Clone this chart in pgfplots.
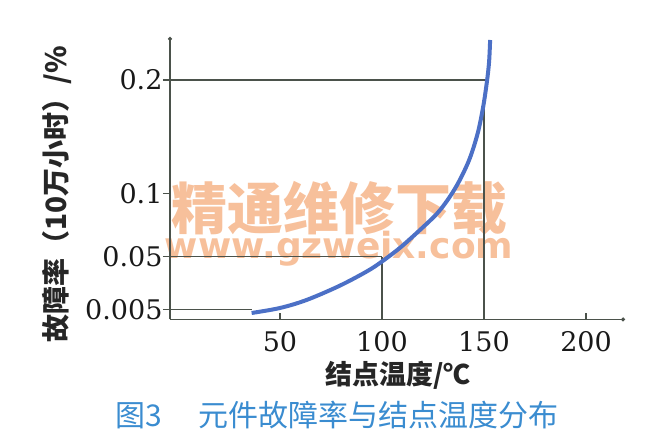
\documentclass[border=0pt]{standalone}
\usepackage{pgfplots}
\pgfplotsset{compat=1.18}
\usetikzlibrary{arrows.meta}
\usepackage{fontspec}
\setmainfont{DejaVu Serif}
\newfontfamily\cjk{Noto Sans CJK SC}
\newfontfamily\wmsans{DejaVu Sans}
\definecolor{curveblue}{RGB}{76,112,198}
\definecolor{axisgray}{RGB}{75,82,75}
\definecolor{capblue}{RGB}{58,140,208}
\definecolor{wmorange}{RGB}{247,192,155}
\begin{document}
\begin{tikzpicture}[x=1pt,y=1pt]
\useasboundingbox (0pt,0pt) rectangle (672pt,446pt);
\node[font=\cjk\bfseries\fontsize{56}{60}\selectfont, text=wmorange] at (339pt,238pt) {精通维修下载};
\node[font=\wmsans\bfseries\fontsize{36}{40}\selectfont, text=wmorange] at (339pt,197pt) {www.gzweix.com};
\begin{axis}[
  at={(170pt,126.5pt)}, anchor=south west, scale only axis,
  width=455pt, height=282.5pt,
  xmin=-3.9, xmax=219.1, ymin=0, ymax=282.5,
  axis x line=bottom, axis y line=left,
  axis line style={axisgray, line width=1.2pt, -{Circle[length=4pt]}},
  xtick={50,100,150,200}, xticklabels={50,100,150,200},
  xtick style={draw=none},
  ytick={10.2,62.8,126.2,239.5}, yticklabels={0.005,0.05,0.1,0.2},
  tick align=outside, major tick length=7pt,
  ytick style={axisgray, line width=1.2pt},
  /pgf/number format/assume math mode=true,
  ticklabel style={font=\fontsize{27}{30}\selectfont, text=black!90},
  xticklabel style={yshift=-1pt},
  yticklabel style={xshift=3pt},
  clip=false,
]
\addplot[axisgray, line width=1.2pt] coordinates {(-3.9,239.5)(151.5,239.5)};
\addplot[axisgray, line width=1.2pt] coordinates {(-3.9,62.8)(100,62.8)};
\addplot[axisgray, line width=1.2pt] coordinates {(-3.9,10.2)(36.1,10.2)};
\addplot[axisgray, line width=1.2pt] coordinates {(100,0)(100,62.8)};
\addplot[axisgray, line width=1.2pt] coordinates {(150,0)(150,216)};
\addplot[axisgray, line width=1.2pt] coordinates {(50,0)(50,6)};
\addplot[axisgray, line width=1.2pt] coordinates {(200,0)(200,6)};
\addplot[curveblue, line width=4pt, smooth, tension=0.55] coordinates {
(36.1,6.5)(50,11.5)(63,19.5)(79,33.5)(92.5,48)(100,58)(109,72)
(118.6,89.5)(127,106)(133,122)(138,139)(143,161)(147,187)(149.7,214)
(151.5,239)(152.5,258)(153,279.5)};
\end{axis}
\node[rotate=90, font=\cjk\bfseries\fontsize{28}{32}\selectfont, text=black!85] at (57pt,252pt) {故障率（10万小时）/\%};
\node[font=\cjk\bfseries\fontsize{27}{32}\selectfont, text=black!85] at (398pt,71pt) {结点温度/℃};
\node[font=\cjk\fontsize{30}{34}\selectfont, text=capblue] at (337pt,31pt) {图3\hspace{1.2em}元件故障率与结点温度分布};
\end{tikzpicture}
\end{document}
